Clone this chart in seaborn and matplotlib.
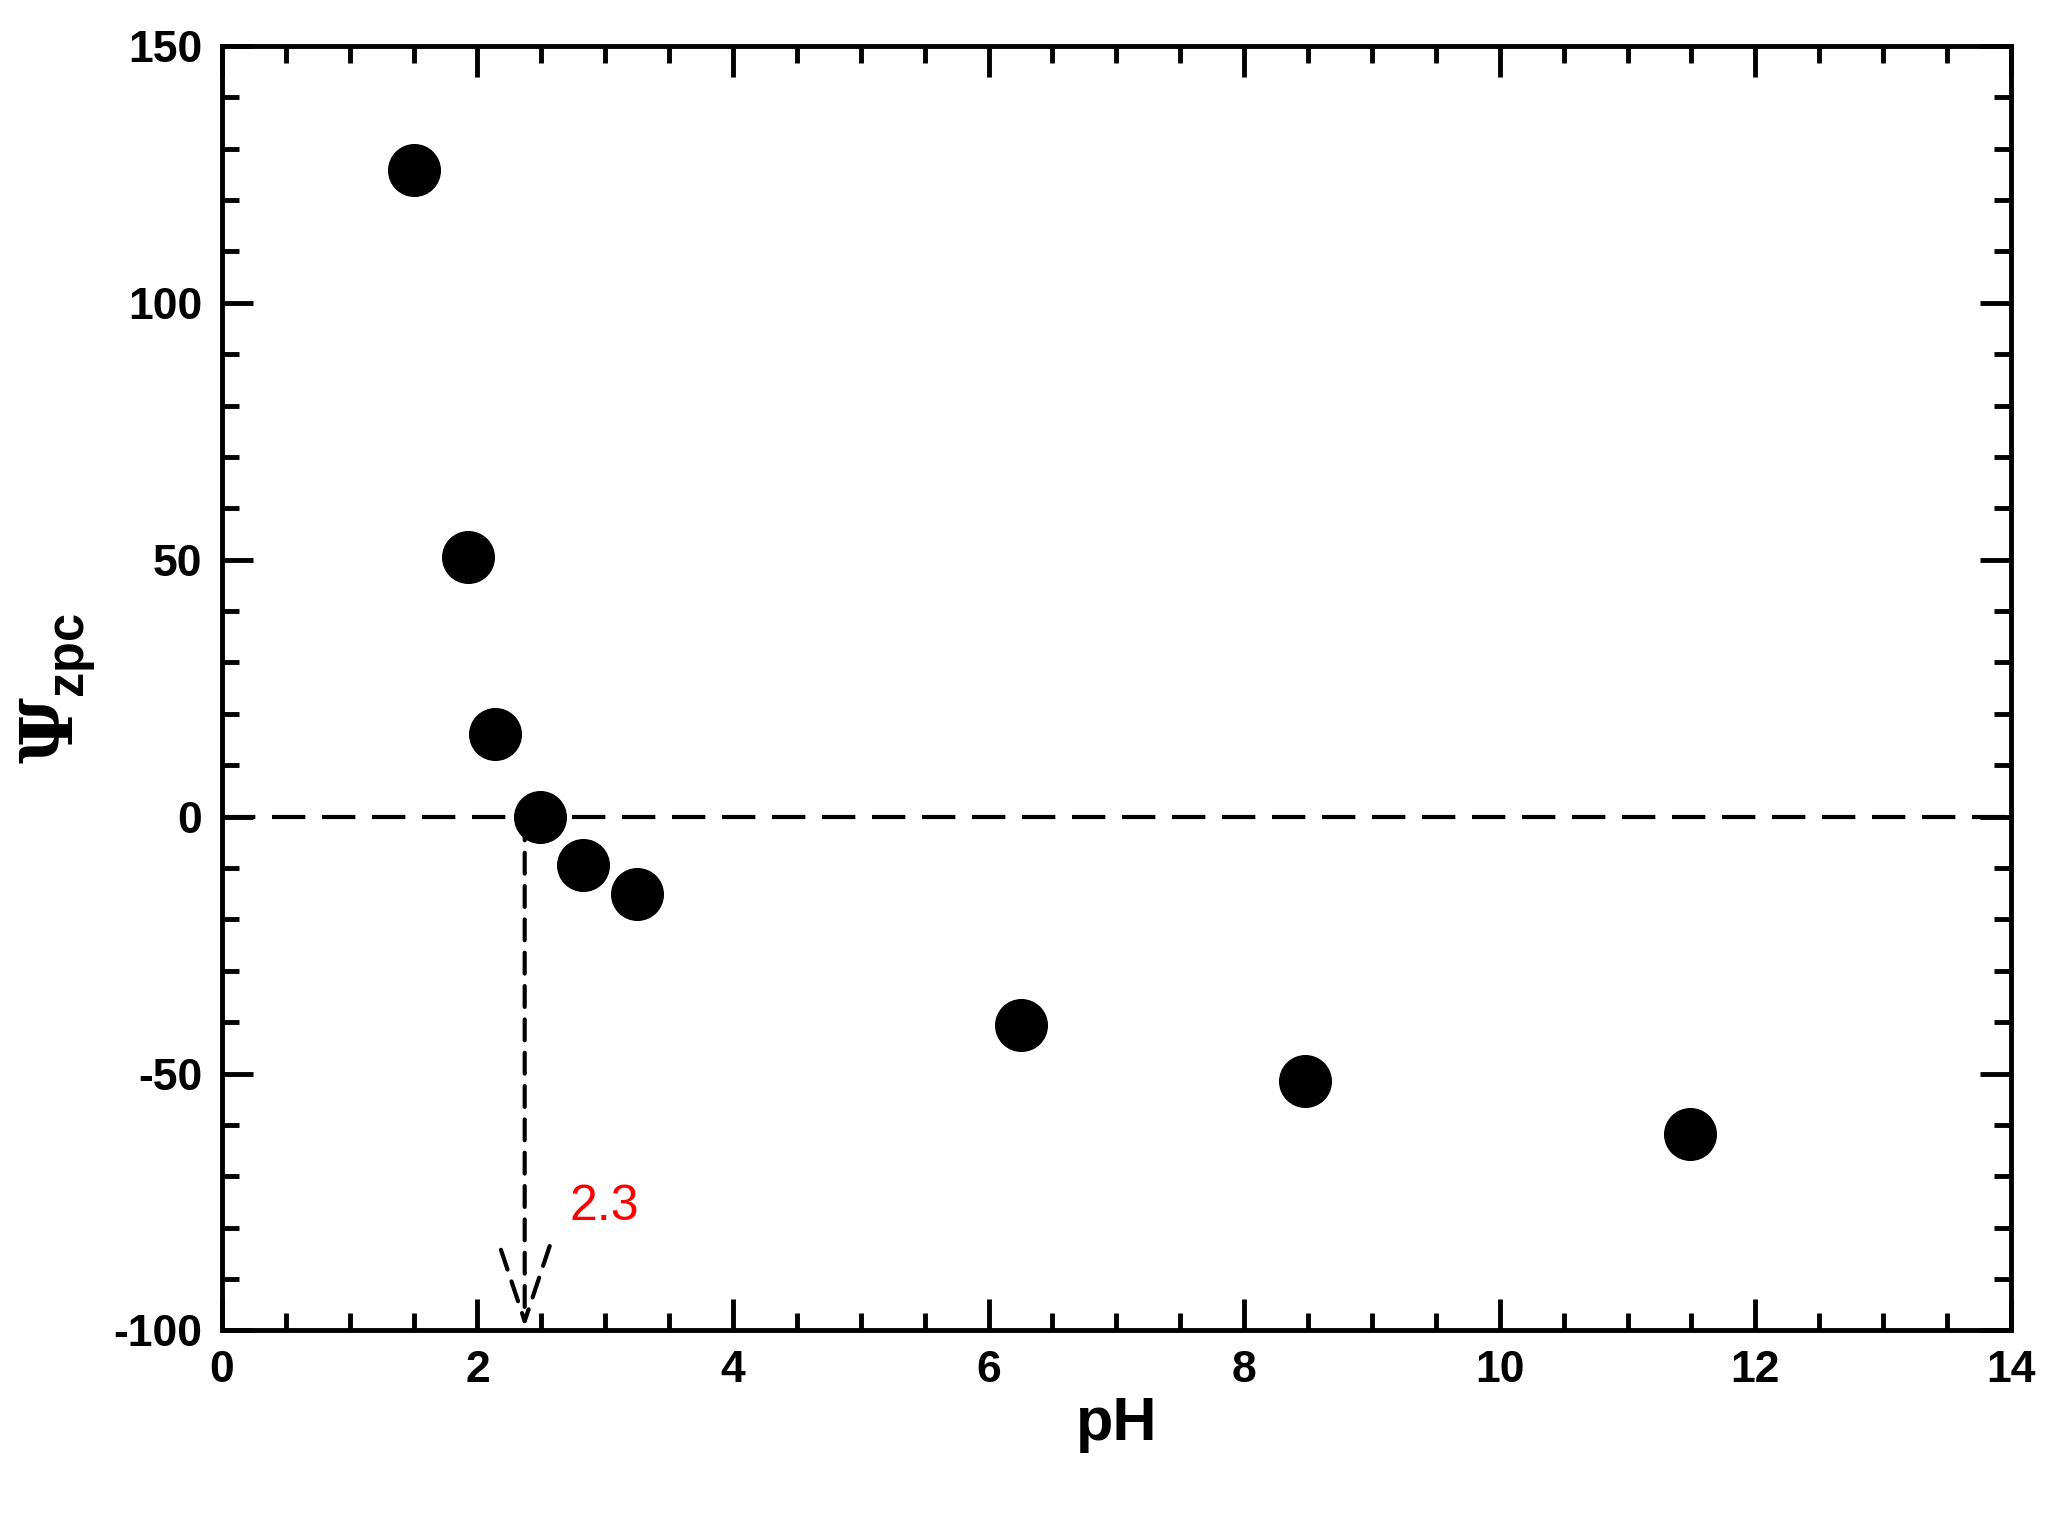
import matplotlib
matplotlib.use("Agg")
import matplotlib.pyplot as plt
from matplotlib.ticker import MultipleLocator
import seaborn as sns
import pandas as pd

# data
ph = [1.50, 1.93, 2.14, 2.49, 2.83, 3.25, 6.25, 8.48, 11.49]
psi = [125.8, 50.5, 16.0, 0.0, -9.4, -15.0, -40.6, -51.5, -61.7]
pzc = 2.37
pzc_label = "2.3"

df = pd.DataFrame({"pH": ph, "psi": psi})

sns.set_style("ticks")
plt.rcParams["font.family"] = ["Liberation Sans", "DejaVu Sans"]
plt.rcParams["font.weight"] = "bold"
plt.rcParams["text.color"] = "black"
plt.rcParams["axes.labelcolor"] = "black"
plt.rcParams["xtick.color"] = "black"
plt.rcParams["ytick.color"] = "black"
plt.rcParams["axes.unicode_minus"] = False
plt.rcParams["mathtext.fontset"] = "custom"
plt.rcParams["mathtext.rm"] = "DejaVu Serif"
plt.rcParams["mathtext.bf"] = "Liberation Sans:bold"

fig = plt.figure(figsize=(20.54, 15.31), dpi=100)
ax = fig.add_axes([0.108, 0.131, 0.871, 0.839])

ax.axhline(0, color="black", lw=3, ls=(0, (8, 4)), zorder=1)
ax.annotate("", xy=(pzc, -100), xytext=(pzc, 0),
            arrowprops=dict(arrowstyle="->,head_length=0.9,head_width=0.3",
                            color="black", lw=3,
                            ls=(0, (5, 3)), mutation_scale=60))
ax.text(pzc + 0.35, -76, pzc_label, color="red", fontsize=36,
        fontweight="normal", ha="left", va="center")

sns.scatterplot(data=df, x="pH", y="psi", ax=ax, s=1250, color="black",
                edgecolor="black", zorder=3, legend=False)

ax.set_xlim(0, 14)
ax.set_ylim(-100, 150)
ax.xaxis.set_major_locator(MultipleLocator(2))
ax.xaxis.set_minor_locator(MultipleLocator(0.5))
ax.yaxis.set_major_locator(MultipleLocator(50))
ax.yaxis.set_minor_locator(MultipleLocator(10))
ax.tick_params(which="both", direction="in", top=True, right=True, width=3.5,
               labelsize=32, pad=14)
ax.tick_params(which="major", length=22)
ax.tick_params(which="minor", length=12)
for s in ax.spines.values():
    s.set_linewidth(3.5)
    s.set_color("black")

ax.set_xlabel("pH", fontsize=44, fontweight="bold")
ax.set_ylabel(r"$\Psi_{\mathbf{zpc}}$", fontsize=52, labelpad=10)

fig.savefig("out.png", dpi=100)
